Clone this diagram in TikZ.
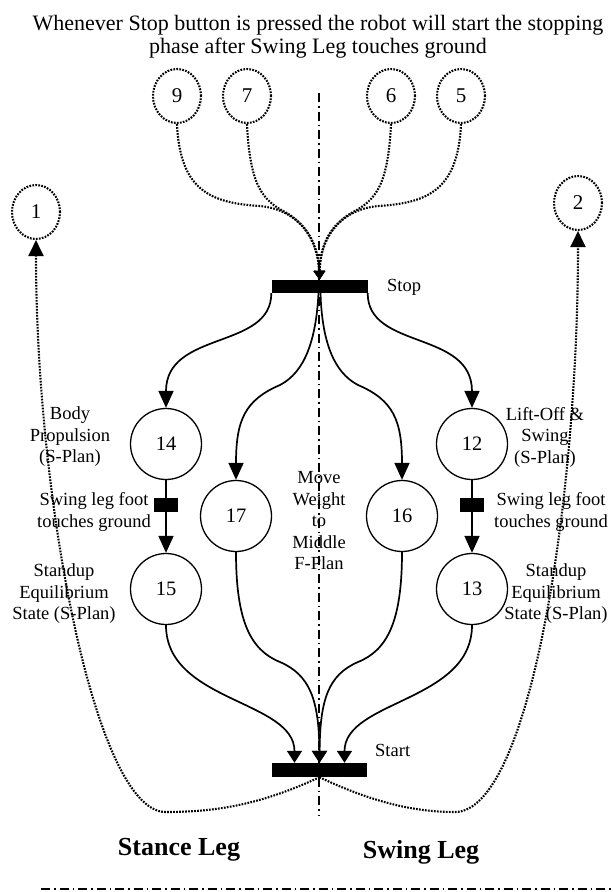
\documentclass[tikz,border=0pt]{standalone}
\usepackage{fontspec}
\setmainfont{Liberation Serif}
\usetikzlibrary{arrows.meta,shapes.geometric}

\begin{document}
\begin{tikzpicture}[x=1pt,y=-1pt,
  every node/.style={inner sep=0pt},
  state/.style={circle,draw,line width=1.3pt,minimum size=71pt,font=\fontsize{20.5}{22}\selectfont},
  refstate/.style={ellipse,draw,line width=2.1pt,dash pattern=on 1.7pt off 1.3pt,
    minimum width=48pt,minimum height=54pt,font=\fontsize{21}{22}\selectfont},
  bar/.style={rectangle,fill=black,minimum width=96pt,minimum height=13pt},
  trans/.style={rectangle,fill=black,minimum width=24pt,minimum height=14pt},
  flow/.style={line width=1.7pt,-{Triangle[length=17pt,width=15pt]}},
  merge/.style={line width=1.7pt,-{Triangle[length=12pt,width=15pt]}},
  dots/.style={line width=2.1pt,dash pattern=on 1.7pt off 1.3pt},
  dotin/.style={dots,-{Triangle[length=9pt,width=11pt]}},
  dotout/.style={dots,-{Triangle[length=16pt,width=15pt]}},
  axis/.style={line width=2.3pt,dash pattern=on 9pt off 4pt on 1.5pt off 4pt},
  lbl/.style={align=center,font=\fontsize{18.5}{21.5}\selectfont},
  title/.style={anchor=base,font=\fontsize{22}{24}\selectfont},
  leg/.style={anchor=base,font=\bfseries\fontsize{26}{28}\selectfont}
]
\useasboundingbox (0,0) rectangle (613,892);

% heading
\node[title] (title1) at (318,30) {Whenever Stop button is pressed the robot will start the stopping};
\node[title] (title2) at (318,53) {phase after Swing Leg touches ground};

% symmetry axis
\draw[axis] (319,93) -- (319,815);

% incoming references
\node[refstate] (c9) at (177,96) {9};
\node[refstate] (c7) at (247,96) {7};
\node[refstate] (c6) at (391,96) {6};
\node[refstate] (c5) at (461,96) {5};
\node[refstate] (c1) at (36,212) {1};
\node[refstate] (c2) at (578,203) {2};

% transitions
\node[bar] (stop) at (319.5,286.5) {};
\node[bar,minimum height=14pt,minimum width=95pt] (start) at (319.5,770) {};
\node[lbl,anchor=base west] (lstop) at (387,291) {Stop};
\node[lbl,anchor=base west] (lstart) at (375,756) {Start};

% states
\node[state] (n14) at (166,444) {14};
\node[state] (n12) at (472,444) {12};
\node[state] (n17) at (236,516) {17};
\node[state] (n16) at (402,516) {16};
\node[state] (n15) at (166,589) {15};
\node[state] (n13) at (472,589) {13};

\draw[flow] (n14) -- (n15);
\draw[flow] (n12) -- (n13);
\node[trans] (tl) at (166,505) {};
\node[trans] (tr) at (472,505) {};

% labels
\node[lbl] (lbody) at (70,437) {Body\\Propulsion\\(S-Plan)};
\node[lbl] (lfootl) at (94,512) {Swing leg foot\\touches ground};
\node[lbl] (lstandl) at (64,594) {Standup\\Equilibrium\\State (S-Plan)};
\node[lbl] (llift) at (545,437) {Lift-Off \&\\Swing\\(S-Plan)};
\node[lbl] (lfootr) at (551,512) {Swing leg foot\\touches ground};
\node[lbl] (lstandr) at (556,594) {Standup\\Equilibrium\\State (S-Plan)};
\node[lbl] (lmove) at (319,521) {Move\\Weight\\to\\Middle\\F-Plan};

% references into Stop
\draw[dotin] (c9.south) .. controls (180,190) and (210,203) .. (260,206)
  .. controls (300,210) and (318,240) .. (stop.north);
\draw[dotin] (c7.south) .. controls (250,185) and (262,200) .. (285,212)
  .. controls (308,225) and (318,245) .. (stop.north);
\draw[dotin] (c6.south) .. controls (388,185) and (376,200) .. (353,212)
  .. controls (330,225) and (320,245) .. (stop.north);
\draw[dotin] (c5.south) .. controls (458,190) and (428,203) .. (378,206)
  .. controls (338,210) and (320,240) .. (stop.north);

% Stop to the states
\draw[flow] (stop.south west) .. controls (271.5,350) and (166,330) .. (n14.north);
\draw[flow] (stop.south east) .. controls (367.5,350) and (472,330) .. (n12.north);
\draw[flow] ([xshift=-1pt]stop.south) .. controls (316,340) and (305,372) .. (280,385)
  .. controls (245,400) and (236,420) .. (n17.north);
\draw[flow] ([xshift=1pt]stop.south) .. controls (322,340) and (333,372) .. (358,385)
  .. controls (393,400) and (402,420) .. (n16.north);

% states into Start
\draw[merge] (n15.south) .. controls (166,702) and (294.5,700) .. ([xshift=-25pt]start.north);
\draw[merge] (n13.south) .. controls (472,702) and (344.5,700) .. ([xshift=25pt]start.north);
\draw[merge] (n17.south) .. controls (236,620) and (250,650) .. (280,662)
  .. controls (310,675) and (319,700) .. (start.north);
\draw[merge] (n16.south) .. controls (402,620) and (388,650) .. (358,662)
  .. controls (328,675) and (320,700) .. (start.north);

% Start back to the references
\draw[dotout] (start.south) .. controls (260,805) and (215,812) .. (165,812)
  .. controls (95,810) and (36,500) .. (c1.south);
\draw[dotout] (start.south) .. controls (378,805) and (420,812) .. (455,812)
  .. controls (530,812) and (578,500) .. (c2.south);

% leg captions
\node[leg] (stance) at (179,855) {Stance Leg};
\node[leg] (swing) at (421,858) {Swing Leg};

% lower rule
\draw[axis] (41,889) -- (613,889);
\end{tikzpicture}
\end{document}
